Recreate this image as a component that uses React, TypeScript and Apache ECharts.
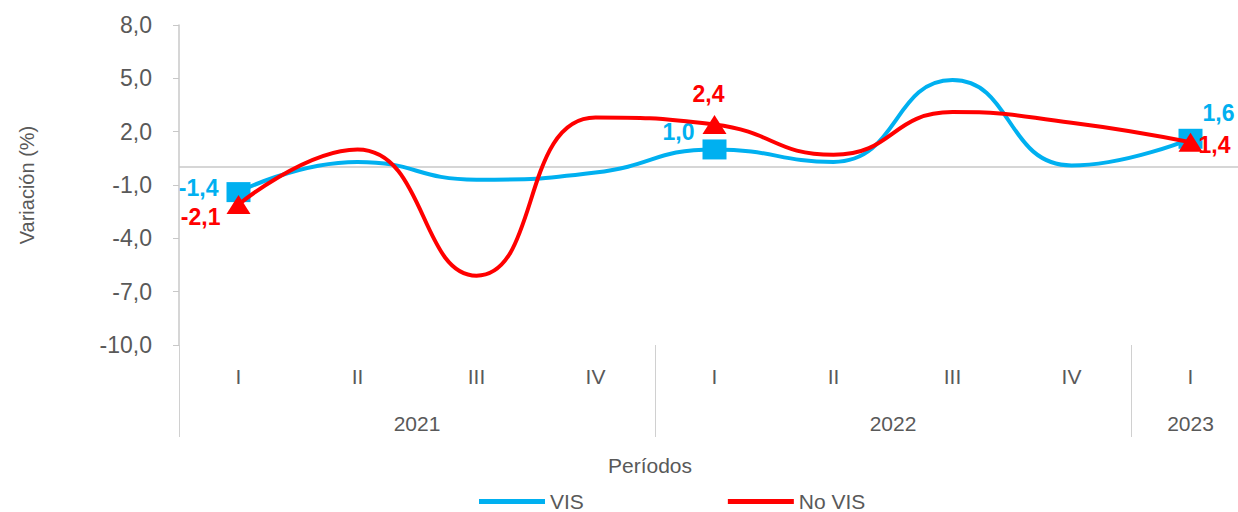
import React, { useEffect, useRef } from "react";
import * as echarts from "echarts";

const quarters = ["I", "II", "III", "IV", "I", "II", "III", "IV", "I"];
const years = ["2021", "2022", "2023"];
const yearCenters = [2, 6, 8.5];
const yearBounds = [0, 4, 8];
const visValues = [-1.4, 0.3, -0.7, -0.3, 1.0, 0.3, 4.9, 0.1, 1.6];
const noVisValues = [-2.1, 1.0, -6.1, 2.8, 2.4, 0.7, 3.1, 2.5, 1.4];
const labeledIdx = [0, 4, 8];

const BLUE = "#00B0F0";
const RED = "#FF0000";
const GREY_TXT = "#595959";
const AXIS_GREY = "#c8c8c8";
const FONT = "'Liberation Sans', 'Open Sans', sans-serif";

const fmt = (v: number) => v.toFixed(1).replace(".", ",");

const visLabelCfg: Record<number, any> = {
  0: { position: "left", distance: 4, offset: [-4, -4] },
  4: { position: "left", distance: 8, offset: [0, -17] },
  8: { position: "top", distance: 4, offset: [28, 0] },
};
const noVisLabelCfg: Record<number, any> = {
  0: { position: "left", distance: 4, offset: [-2, 12] },
  4: { position: "top", distance: 10, offset: [-6, 0] },
  8: { position: "right", distance: -4, offset: [0, 3] },
};

export default function App() {
  const ref = useRef<HTMLDivElement>(null);
  useEffect(() => {
    if (!ref.current) return;
    const chart = echarts.init(ref.current, null, { renderer: "svg" });

    const mkData = (vals: number[], symbol: string, size: number[], color: string, cfg: Record<number, any>) =>
      vals.map((v, i) => {
        if (labeledIdx.includes(i)) {
          return {
            value: v,
            symbol,
            symbolSize: size,
            itemStyle: { color },
            label: {
              show: true,
              formatter: fmt(v),
              color,
              fontWeight: "bold",
              fontSize: 23,
              fontFamily: FONT,
              ...cfg[i],
            },
          };
        }
        return { value: v, symbol: "none" };
      });

    chart.setOption({
      animation: false,
      grid: { left: 179, top: 25, right: 2, bottom: 167, containLabel: false },
      legend: {
        left: 474,
        top: 486,
        itemWidth: 66,
        itemHeight: 5,
        itemGap: 144,
        icon: "rect",
        textStyle: { fontSize: 21, lineHeight: 20, color: GREY_TXT, fontFamily: FONT },
        data: ["VIS", "No VIS"],
      },
      xAxis: [
        {
          type: "category",
          data: quarters,
          position: "bottom",
          axisLine: { show: false },
          axisTick: { show: false },
          axisLabel: { margin: 21, fontSize: 21, color: GREY_TXT, fontFamily: FONT, interval: 0 },
        },
        {
          type: "value",
          min: 0,
          max: 9,
          position: "bottom",
          axisLine: { show: false },
          splitLine: { show: false },
          axisTick: {
            show: true,
            customValues: yearBounds,
            length: 92,
            lineStyle: { color: "#d0d0d0", width: 1 },
          },
          axisLabel: {
            customValues: yearCenters,
            margin: 68,
            fontSize: 21,
            color: GREY_TXT,
            fontFamily: FONT,
            formatter: (v: number) => {
              const k = yearCenters.indexOf(v);
              return k >= 0 ? years[k] : "";
            },
          },
        },
      ],
      yAxis: {
        type: "value",
        min: -10,
        max: 8,
        interval: 3,
        name: "Variación (%)",
        nameLocation: "middle",
        nameGap: 142,
        nameTextStyle: { fontSize: 20, color: GREY_TXT, fontFamily: FONT },
        axisLine: { show: true, lineStyle: { color: AXIS_GREY, width: 1.5 } },
        axisTick: { show: true, length: 6, lineStyle: { color: AXIS_GREY } },
        splitLine: { show: false },
        axisLabel: {
          formatter: fmt,
          fontSize: 23,
          color: GREY_TXT,
          fontFamily: FONT,
          margin: 27,
        },
      },
      graphic: [
        {
          type: "text",
          left: 660 - 52,
          top: 455,
          style: { text: "Períodos", fontSize: 21, fill: GREY_TXT, fontFamily: FONT },
        },
      ],
      series: [
        {
          name: "VIS",
          type: "line",
          xAxisIndex: 0,
          smooth: 0.5,
          color: BLUE,
          lineStyle: { width: 4, color: BLUE },
          data: mkData(visValues, "rect", [24, 20], BLUE, visLabelCfg),
          z: 3,
          markLine: {
            silent: true,
            symbol: "none",
            label: { show: false },
            lineStyle: { color: AXIS_GREY, width: 1.5, type: "solid" },
            data: [{ yAxis: 0 }],
            z: 1,
          },
        },
        {
          name: "No VIS",
          type: "line",
          xAxisIndex: 0,
          smooth: 0.5,
          color: RED,
          lineStyle: { width: 4, color: RED },
          data: mkData(noVisValues, "triangle", [24, 19], RED, noVisLabelCfg),
          z: 4,
        },
      ],
    });
    return () => chart.dispose();
  }, []);
  return (
    <div
      ref={ref}
      style={{ position: "fixed", left: 0, top: 0, width: 1252, height: 512, background: "#fff" }}
    />
  );
}
